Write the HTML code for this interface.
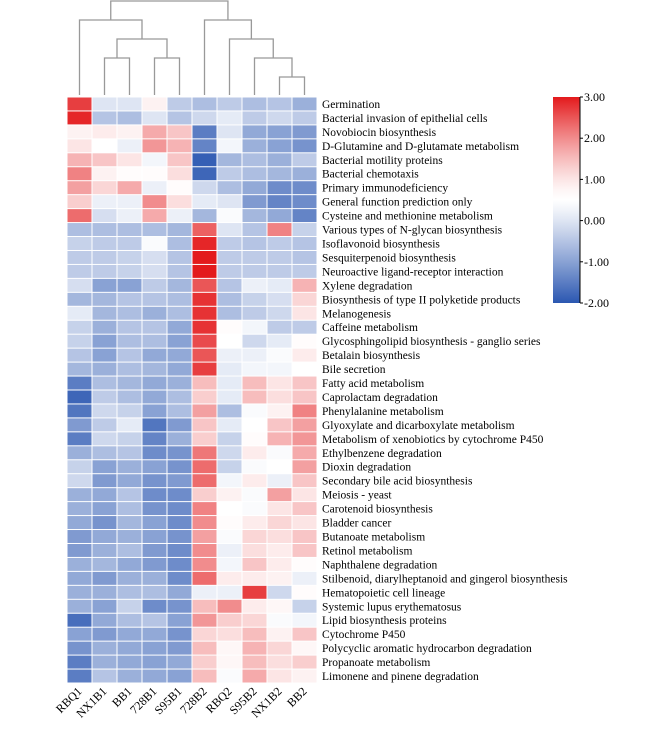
<!DOCTYPE html>
<html><head><meta charset="utf-8"><style>
html,body{margin:0;padding:0;background:#fff;}
svg{display:block;font-family:"Liberation Serif",serif;}
</style></head><body>
<svg id="chart" width="655" height="732" viewBox="0 0 655 732"></svg>
<script>
const columns = ["RBQ1","NX1B1","BB1","728B1","S95B1","728B2","RBQ2","S95B2","NX1B2","BB2"];
const rows = ["Germination","Bacterial invasion of epithelial cells","Novobiocin biosynthesis","D-Glutamine and D-glutamate metabolism","Bacterial motility proteins","Bacterial chemotaxis","Primary immunodeficiency","General function prediction only","Cysteine and methionine metabolism","Various types of N-glycan biosynthesis","Isoflavonoid biosynthesis","Sesquiterpenoid biosynthesis","Neuroactive ligand-receptor interaction","Xylene degradation","Biosynthesis of type II polyketide products","Melanogenesis","Caffeine metabolism","Glycosphingolipid biosynthesis - ganglio series","Betalain biosynthesis","Bile secretion","Fatty acid metabolism","Caprolactam degradation","Phenylalanine metabolism","Glyoxylate and dicarboxylate metabolism","Metabolism of xenobiotics by cytochrome P450","Ethylbenzene degradation","Dioxin degradation","Secondary bile acid biosynthesis","Meiosis - yeast","Carotenoid biosynthesis","Bladder cancer","Butanoate metabolism","Retinol metabolism","Naphthalene degradation","Stilbenoid, diarylheptanoid and gingerol biosynthesis","Hematopoietic cell lineage","Systemic lupus erythematosus","Lipid biosynthesis proteins","Cytochrome P450","Polycyclic aromatic hydrocarbon degradation","Propanoate metabolism","Limonene and pinene degradation"];
const values = [
[2.7,0.0,0.0,0.8,-0.4,-0.6,-0.4,-0.6,-0.5,-0.8],
[2.9,-0.5,-0.6,0.0,-0.5,-0.2,0.1,-0.4,-0.2,-0.4],
[0.8,0.9,0.8,1.7,1.4,-1.5,0.0,-0.9,-1.0,-1.1],
[1.0,0.5,0.2,1.9,1.6,-1.4,0.3,-0.8,-1.0,-1.2],
[1.6,1.4,1.0,0.3,1.4,-1.9,-0.7,-0.6,-0.8,-0.4],
[2.1,0.8,0.6,0.6,1.1,-1.8,-0.4,-0.6,-0.7,-0.8],
[1.8,1.2,1.7,0.2,0.6,-0.2,-0.6,-0.9,-1.3,-1.3],
[1.3,0.2,0.2,2.0,1.1,0.1,0.0,-1.1,-1.4,-1.3],
[2.3,-0.1,0.2,1.7,0.2,-0.7,0.4,-0.7,-0.9,-1.4],
[-0.6,-0.6,-0.6,-0.6,-0.7,2.4,0.0,-0.5,2.1,-0.3],
[-0.3,-0.4,-0.4,0.4,-0.6,2.9,-0.4,-0.5,-0.4,-0.5],
[-0.4,-0.4,-0.3,-0.1,-0.5,3.0,-0.4,-0.4,-0.4,-0.5],
[-0.4,-0.4,-0.3,-0.1,-0.5,3.0,-0.4,-0.4,-0.4,-0.4],
[-0.1,-1.0,-1.0,-0.4,-0.7,2.5,-0.5,0.2,0.1,1.6],
[-0.7,-0.7,-0.5,-0.5,-0.6,2.8,-0.6,-0.3,-0.1,1.2],
[0.1,-0.7,-0.6,-0.8,-0.6,2.8,-0.6,-0.4,-0.2,1.0],
[-0.3,-0.8,-0.5,-0.5,-0.9,2.8,0.6,0.3,-0.4,-0.4],
[-0.3,-1.0,-0.6,-0.6,-1.0,2.6,0.5,-0.2,0.1,0.6],
[-0.5,-1.0,-0.5,-0.9,-0.9,2.5,0.2,0.2,0.4,0.9],
[-0.7,-0.8,-0.6,-0.7,-0.9,2.7,0.1,0.3,0.3,0.5],
[-1.5,-0.6,-0.7,-0.9,-0.8,1.5,0.1,1.5,1.0,1.4],
[-1.8,-0.4,-0.6,-0.9,-0.6,1.3,0.1,1.5,1.1,1.4],
[-1.6,-0.2,-0.3,-1.0,-0.6,1.8,-0.6,0.4,0.8,2.1],
[-1.1,-0.4,0.1,-1.6,-1.1,1.4,0.1,0.5,1.4,1.8],
[-1.5,-0.2,-0.3,-1.4,-0.8,1.3,-0.3,0.6,1.6,1.9],
[-0.8,-0.6,-0.5,-1.3,-1.2,2.2,-0.2,0.9,0.4,1.7],
[-0.3,-1.0,-0.8,-1.0,-1.2,2.3,-0.3,0.4,0.5,1.8],
[-0.2,-1.1,-0.9,-1.2,-1.1,2.3,0.3,0.9,0.2,1.4],
[-0.8,-0.9,-0.5,-1.3,-1.3,1.3,0.8,0.4,1.8,1.0],
[-0.8,-1.0,-0.6,-1.2,-1.3,2.1,0.5,0.4,1.0,1.4],
[-0.9,-1.2,-0.7,-1.0,-1.3,2.0,0.6,0.9,1.2,1.0],
[-1.1,-0.9,-0.8,-1.0,-1.2,1.8,0.4,1.2,1.1,1.4],
[-1.1,-0.8,-0.6,-1.1,-1.3,2.0,0.2,1.1,0.9,1.4],
[-0.8,-0.7,-0.9,-1.1,-1.3,2.0,0.3,1.4,0.9,0.6],
[-0.9,-1.1,-0.8,-0.8,-1.3,2.3,0.9,0.9,0.8,0.2],
[-0.8,-0.8,-0.6,-0.6,-0.9,0.2,0.2,2.7,-0.2,0.6],
[-0.8,-1.0,-0.3,-1.3,-1.2,1.5,2.0,0.9,0.7,-0.3],
[-1.7,-0.9,-0.6,-0.5,-1.0,1.9,1.3,1.2,0.4,0.3],
[-1.0,-1.1,-0.9,-0.9,-1.2,1.2,1.1,1.5,0.8,1.4],
[-1.2,-0.8,-0.9,-1.0,-1.1,1.5,0.7,1.6,1.2,0.7],
[-1.5,-0.8,-0.9,-1.0,-0.9,1.3,0.7,1.5,1.1,1.3],
[-1.5,-0.5,-0.8,-0.9,-1.0,1.5,0.4,1.7,1.0,0.8]
];
const colorTicks = [3,2,1,0,-1,-2];
const colorTickLabels = ["3.00","2.00","1.00","0.00","-1.00","-2.00"];

const NS="http://www.w3.org/2000/svg";
const svg=document.getElementById('chart');
function el(t,a,p){const e=document.createElementNS(NS,t);for(const k in a)e.setAttribute(k,a[k]);(p||svg).appendChild(e);return e;}
const X0=67, CW=25, Y0=97, RH=(683-97)/rows.length;
const xPos=i=>X0+i*CW, yPos=j=>Y0+j*RH;
const BLUE=[43,87,177], WHITE=[255,255,255], RED=[227,26,28];
function color(v){
  const mid=0.5;let b,t,gam;
  if(v<mid){t=(mid-v)/(mid+2);b=BLUE;gam=1.15;}else{t=(v-mid)/(3-mid);b=RED;gam=1.35;}
  const a=WHITE;
  t=Math.max(0,Math.min(1,t));
  t=Math.pow(t,gam);
  return 'rgb('+a.map((c,i)=>Math.round(c+(b[i]-c)*t)).join(',')+')';
}
const cells=el('g',{});


values.forEach((row,j)=>row.forEach((v,i)=>{
  const r=el('rect',{x:xPos(i)+0.5,y:yPos(j)+0.5,width:CW-1,height:RH-1,fill:color(v)},cells);
  
  
}));
rows.forEach((r,j)=>{
  const t=el('text',{x:322,y:yPos(j)+RH/2+4,'font-size':'11.5'});
  t.textContent=r;
  
  
});
columns.forEach((c,i)=>{
  const cx=xPos(i)+CW/2+3, cy=692;
  const t=el('text',{x:cx,y:cy,'font-size':'12','text-anchor':'end',transform:'rotate(-45 '+cx+' '+cy+')'});
  t.textContent=c;
  
  
});
const lv=[1,20,39,58,77], leafY=95;
const cx=i=>xPos(i)+CW/2;
const g=el('g',{stroke:'#999','stroke-width':'1.3',fill:'none'});


function link(xl,yl,xr,yr,h){el('path',{d:'M'+xl+','+yl+'V'+h+'H'+xr+'V'+yr},g);}
link(cx(1),leafY,cx(2),leafY,lv[3]); const n12=(cx(1)+cx(2))/2;
link(cx(3),leafY,cx(4),leafY,lv[3]); const n34=(cx(3)+cx(4))/2;
link(n12,lv[3],n34,lv[3],lv[2]); const n1234=(n12+n34)/2;
link(cx(0),leafY,n1234,lv[2],lv[1]); const nL=(cx(0)+n1234)/2;
link(cx(8),leafY,cx(9),leafY,lv[4]); const n89=(cx(8)+cx(9))/2;
link(cx(7),leafY,n89,lv[4],lv[3]); const n7=(cx(7)+n89)/2;
link(cx(6),leafY,n7,lv[3],lv[2]); const n6=(cx(6)+n7)/2;
link(cx(5),leafY,n6,lv[2],lv[1]); const nR=(cx(5)+n6)/2;
link(nL,lv[1],nR,lv[1],lv[0]);
const CB={x:553,y:97,w:27,h:206,min:-2,max:3};
const defs=el('defs',{});
const grad=el('linearGradient',{id:'cb',x1:0,y1:1,x2:0,y2:0},defs);
for(let k=0;k<=20;k++){const v=CB.min+(CB.max-CB.min)*k/20;el('stop',{offset:k/20,'stop-color':color(v)},grad);}
const cb=el('rect',{x:CB.x,y:CB.y,width:CB.w,height:CB.h,fill:'url(#cb)'});


const cby=v=>CB.y+CB.h*(CB.max-v)/(CB.max-CB.min);
el('line',{x1:CB.x+CB.w,y1:CB.y,x2:CB.x+CB.w,y2:CB.y+CB.h,stroke:'#000','stroke-width':1});
colorTicks.forEach((v,k)=>{
  const y=cby(v);
  el('line',{x1:CB.x+CB.w,y1:y,x2:CB.x+CB.w+3,y2:y,stroke:'#000','stroke-width':1});
  const t=el('text',{x:CB.x+CB.w+4,y:y+4,'font-size':'12'});
  t.textContent=colorTickLabels[k];
  
  
});
</script>
</body></html>
